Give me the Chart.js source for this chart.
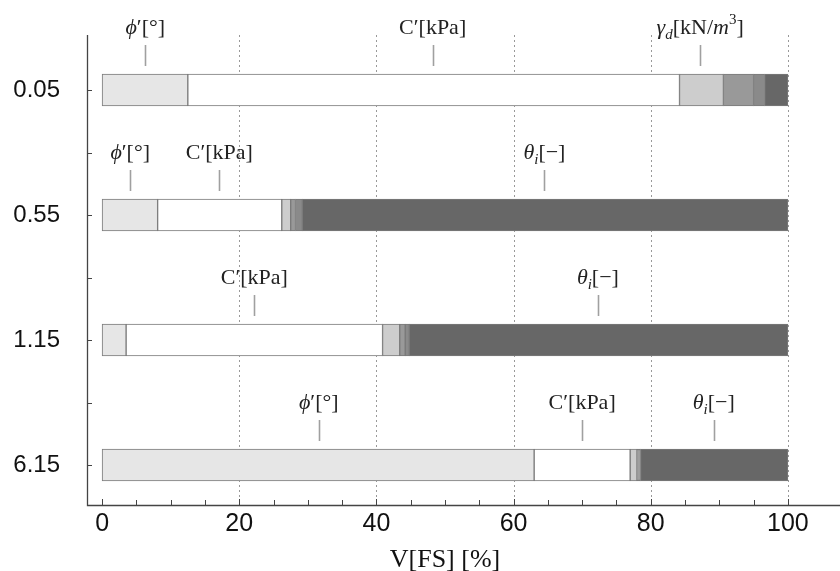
<!DOCTYPE html>
<html>
<head>
<meta charset="utf-8">
<script src="https://cdn.jsdelivr.net/npm/chart.js@4"></script>
<style>
  body { margin: 0; background: #fff; }
  #wrap { width: 840px; height: 571px; }
</style>
</head>
<body>
<div id="wrap"><canvas id="fsChart"></canvas></div>
<script>
// rows (y categories)
const categories = ['0.05', '0.55', '1.15', '6.15'];

// share of V[FS] per parameter, %
const phiData   = [12.5,  8.1,  3.5, 63.0];
const cData     = [71.7, 18.1, 37.4, 14.0];
const gammaData = [ 6.4,  1.3,  2.5,  1.0];
const p4Data    = [ 4.4,  0.7,  0.8,  0.3];
const p5Data    = [ 1.6,  1.0,  0.6,  0.2];
const thetaData = [ 3.4, 70.8, 55.2, 21.5];

// labels written above the bars
const noteRow   = [0, 0, 0, 1, 1, 1, 2, 2, 3, 3, 3];
const noteValue = [6.3, 48.2, 87.2, 4.1, 17.1, 64.5, 22.2, 72.3, 31.6, 70.0, 89.2];
const noteKey   = ['phi', 'c', 'gamma', 'phi', 'c', 'theta', 'c', 'theta', 'phi', 'c', 'theta'];

const xTicks = [0, 5, 10, 15, 20, 25, 30, 35, 40, 45, 50, 55, 60, 65, 70, 75, 80, 85, 90, 95, 100];
const yTicks = [0, 0.5, 1, 1.5, 2, 2.5, 3];

const SERIF = '"Liberation Serif", "Times New Roman", serif';
const SANS = '"Liberation Sans", Arial, sans-serif';

const noteParts = {
    phi:   [{t: 'ϕ', it: true}, {t: '′[°]'}],
    c:     [{t: 'C′[kPa]'}],
    gamma: [{t: 'γ', it: true}, {t: 'd', it: true, sub: true}, {t: '[kN/'}, {t: 'm', it: true}, {t: '3', sup: true}, {t: ']'}],
    theta: [{t: 'θ', it: true}, {t: 'i', it: true, sub: true}, {t: '[−]'}]
};

function partFont(p) {
    const size = (p.sub || p.sup) ? 15 : 22;
    return (p.it ? 'italic ' : '') + size + 'px ' + SERIF;
}

function drawRich(ctx, parts, cx, baseY) {
    let w = 0;
    parts.forEach(p => { ctx.font = partFont(p); w += ctx.measureText(p.t).width; });
    let x = cx - w / 2;
    parts.forEach(p => {
        ctx.font = partFont(p);
        let y = baseY;
        if (p.sub) y += 5;
        if (p.sup) y -= 10;
        ctx.fillText(p.t, x, y);
        x += ctx.measureText(p.t).width;
    });
}

const BAR_H = 32;

const decorPlugin = {
    id: 'decor',
    beforeDatasetsDraw(chart) {
        const {ctx, chartArea: a, scales: {x}} = chart;
        ctx.save();
        // dotted grid lines
        ctx.strokeStyle = '#999';
        ctx.lineWidth = 1;
        ctx.setLineDash([2, 3]);
        [20, 40, 60, 80, 100].forEach(v => {
            const px = Math.round(x.getPixelForValue(v)) + 0.5;
            ctx.beginPath();
            ctx.moveTo(px, a.top);
            ctx.lineTo(px, a.bottom);
            ctx.stroke();
        });
        ctx.restore();
    },
    afterDatasetsDraw(chart) {
        const {ctx, chartArea: a, scales: {x, y}} = chart;
        ctx.save();
        // axes
        ctx.strokeStyle = '#444';
        ctx.lineWidth = 1.3;
        ctx.beginPath();
        ctx.moveTo(a.left + 0.5, a.top);
        ctx.lineTo(a.left + 0.5, a.bottom + 0.5);
        ctx.lineTo(a.right, a.bottom + 0.5);
        ctx.stroke();
        // inward ticks
        ctx.lineWidth = 1;
        xTicks.forEach(v => {
            const px = Math.round(x.getPixelForValue(v)) + 0.5;
            const len = v % 20 === 0 ? 6 : 5;
            ctx.beginPath();
            ctx.moveTo(px, a.bottom);
            ctx.lineTo(px, a.bottom - len);
            ctx.stroke();
        });
        yTicks.forEach(v => {
            const py = Math.round(y.getPixelForValue(v)) + 0.5;
            ctx.beginPath();
            ctx.moveTo(a.left, py);
            ctx.lineTo(a.left + 5, py);
            ctx.stroke();
        });
        // notes above the bars
        ctx.fillStyle = '#222';
        ctx.textBaseline = 'alphabetic';
        noteValue.forEach((v, i) => {
            const px = x.getPixelForValue(v);
            const top = y.getPixelForValue(noteRow[i]) - BAR_H / 2;
            ctx.strokeStyle = '#a0a0a0';
            ctx.lineWidth = 1.6;
            ctx.beginPath();
            ctx.moveTo(Math.round(px) + 0.5, top - 29);
            ctx.lineTo(Math.round(px) + 0.5, top - 8);
            ctx.stroke();
            drawRich(ctx, noteParts[noteKey[i]], px, top - 40);
        });
        // x title
        ctx.font = '26px ' + SERIF;
        ctx.textAlign = 'center';
        ctx.textBaseline = 'middle';
        ctx.fillStyle = '#111';
        ctx.fillText('V[FS] [%]', x.getPixelForValue(50), 560);
        ctx.restore();
    }
};

function rows(values) {
    return values.map((v, i) => ({x: v, y: i}));
}

const ctx = document.getElementById('fsChart').getContext('2d');
new Chart(ctx, {
    type: 'bar',
    data: {
        datasets: [
            {label: 'phi', data: rows(phiData), backgroundColor: '#e6e6e6'},
            {label: 'C', data: rows(cData), backgroundColor: '#ffffff'},
            {label: 'gamma_d', data: rows(gammaData), backgroundColor: '#cdcdcd'},
            {label: 'p4', data: rows(p4Data), backgroundColor: '#999999'},
            {label: 'p5', data: rows(p5Data), backgroundColor: '#8a8a8a'},
            {label: 'theta_i', data: rows(thetaData), backgroundColor: '#676767'}
        ]
    },
    options: {
        indexAxis: 'y',
        responsive: true,
        maintainAspectRatio: false,
        animation: false,
        layout: {padding: {top: 35, left: 0, right: 0, bottom: 0}},
        datasets: {
            bar: {
                barThickness: BAR_H,
                borderColor: '#7a7a7a',
                borderWidth: 1,
                borderSkipped: false
            }
        },
        plugins: {
            legend: {display: false},
            tooltip: {enabled: false}
        },
        scales: {
            x: {
                type: 'linear',
                stacked: true,
                min: -2.2,
                max: 107.6,
                afterBuildTicks: s => { s.ticks = xTicks.map(v => ({value: v})); },
                afterFit: s => { s.height = 66; },
                grid: {display: false},
                border: {display: false},
                ticks: {
                    autoSkip: false,
                    maxRotation: 0,
                    padding: -4,
                    color: '#111',
                    font: {family: SANS, size: 25},
                    callback: v => (v % 20 === 0 ? String(v) : '')
                }
            },
            y: {
                type: 'linear',
                stacked: true,
                reverse: true,
                offset: false,
                min: -0.44,
                max: 3.32,
                afterBuildTicks: s => { s.ticks = yTicks.map(v => ({value: v})); },
                afterFit: s => { s.width = 87; },
                grid: {display: false},
                border: {display: false},
                ticks: {
                    autoSkip: false,
                    padding: 19,
                    color: '#111',
                    font: {family: SANS, size: 24},
                    callback: v => (Number.isInteger(v) ? categories[v] : '')
                }
            }
        }
    },
    plugins: [decorPlugin]
});
</script>
</body>
</html>
